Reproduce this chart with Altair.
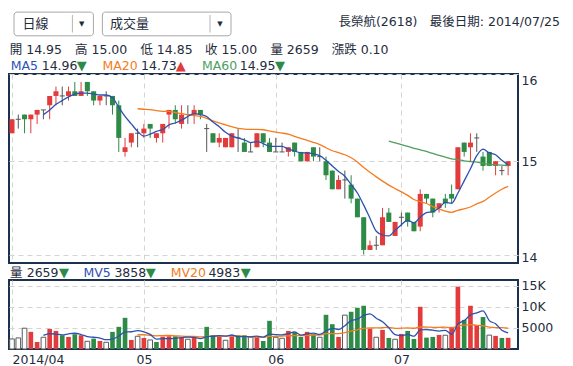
import altair as alt
import pandas as pd

# ---------------- data ----------------
opens = [15.30, 15.45, 15.50, 15.45, 15.50, 15.55, 15.60, 15.70, 15.70, 15.70,
         15.75, 15.70, 15.85, 15.75, 15.65, 15.70, 15.70, 15.60, 15.10, 15.20,
         15.30, 15.30, 15.40, 15.25, 15.30, 15.50, 15.55, 15.40, 15.50, 15.50,
         15.55, 15.35, 15.30, 15.20, 15.15, 15.15, 15.25, 15.20, 15.10, 15.15,
         15.30, 15.20, 15.10, 15.10, 15.10, 15.20, 15.10, 15.00, 15.15, 15.05,
         15.00, 14.90, 14.70, 14.80, 14.75, 14.60, 14.40, 14.05, 14.10, 14.10,
         14.45, 14.20, 14.40, 14.45, 14.35, 14.30, 14.65, 14.60, 14.50, 14.60,
         14.65, 14.70, 15.20, 15.15, 15.25, 15.05, 15.10, 14.95, 14.90, 14.95]
highs = [15.45, 15.50, 15.50, 15.50, 15.55, 15.55, 15.70, 15.80, 15.80, 15.80,
         15.85, 15.85, 15.85, 15.75, 15.70, 15.75, 15.70, 15.65, 15.25, 15.30,
         15.35, 15.40, 15.40, 15.30, 15.40, 15.55, 15.60, 15.60, 15.60, 15.60,
         15.55, 15.40, 15.30, 15.30, 15.25, 15.30, 15.35, 15.25, 15.20, 15.30,
         15.30, 15.25, 15.25, 15.20, 15.15, 15.20, 15.10, 15.10, 15.15, 15.15,
         15.05, 14.90, 14.85, 14.90, 14.85, 14.60, 14.40, 14.15, 14.20, 14.50,
         14.50, 14.35, 14.45, 14.45, 14.35, 14.70, 14.65, 14.60, 14.55, 14.65,
         14.75, 15.15, 15.20, 15.30, 15.30, 15.10, 15.10, 15.00, 14.95, 15.00]
lows = [15.30, 15.35, 15.30, 15.30, 15.40, 15.45, 15.45, 15.60, 15.60, 15.65,
        15.70, 15.70, 15.70, 15.60, 15.60, 15.60, 15.50, 15.10, 15.05, 15.15,
        15.15, 15.25, 15.25, 15.20, 15.20, 15.35, 15.40, 15.35, 15.40, 15.40,
        15.45, 15.10, 15.20, 15.15, 15.15, 15.15, 15.10, 15.10, 15.10, 15.15,
        15.15, 15.10, 15.10, 15.10, 15.05, 15.05, 15.00, 15.00, 15.00, 15.00,
        14.80, 14.70, 14.70, 14.60, 14.55, 14.40, 14.00, 14.05, 14.05, 14.10,
        14.35, 14.20, 14.30, 14.30, 14.25, 14.25, 14.55, 14.40, 14.45, 14.50,
        14.55, 14.70, 15.05, 15.00, 15.10, 14.90, 14.95, 14.85, 14.85, 14.85]
closes = [15.45, 15.45, 15.45, 15.50, 15.55, 15.55, 15.70, 15.75, 15.70, 15.75,
          15.70, 15.75, 15.75, 15.65, 15.70, 15.70, 15.60, 15.25, 15.15, 15.30,
          15.30, 15.35, 15.35, 15.30, 15.40, 15.55, 15.45, 15.50, 15.50, 15.55,
          15.50, 15.35, 15.20, 15.25, 15.25, 15.30, 15.25, 15.10, 15.10, 15.30,
          15.20, 15.10, 15.10, 15.10, 15.15, 15.10, 15.00, 15.10, 15.05, 15.05,
          14.85, 14.70, 14.80, 14.80, 14.60, 14.40, 14.05, 14.10, 14.10, 14.40,
          14.35, 14.35, 14.40, 14.35, 14.25, 14.65, 14.60, 14.45, 14.55, 14.55,
          14.60, 15.15, 15.10, 15.20, 15.25, 14.95, 14.95, 15.00, 14.90, 15.00]
volumes = [2390, 2630, 4940, 4070, 1670, 2790, 4780, 4300, 3270, 2870,
           3510, 3270, 1830, 2470, 1910, 1590, 4070, 5260, 7410, 2150,
           3030, 2630, 2150, 1670, 2950, 3030, 3030, 2790, 2310, 2630,
           1670, 5260, 3270, 3030, 2070, 3030, 3270, 3270, 2870, 2870,
           1910, 6700, 2790, 2550, 4300, 4070, 2870, 4070, 3510, 2790,
           8130, 5900, 2870, 8050, 8850, 9800, 10280, 4860, 2790, 4540,
           2630, 2310, 3590, 4300, 2390, 10040, 2710, 2870, 3350, 3270,
           5260, 14820, 6930, 10280, 5660, 7600, 3300, 3110, 2630, 2659]
close_before_first = 15.45          # previous session close (first volume bar is "unchanged")
month_ticks = [0, 21, 42, 62]
month_labels = ["2014/04", "05", "06", "07"]

# ---------------- styling ----------------
FONT = "DejaVu Sans, Noto Sans CJK TC, sans-serif"
RED, GREEN, GRAY = "#e23b3b", "#2e8b47", "#555555"
BLUE, ORANGE, MA60C = "#2c52b0", "#f47b20", "#4e9e5e"
DARK = "#1f2d3d"
GRID = "#d4d4d4"
BORDER = "#1c3150"
W, H_MAIN, H_VOL = 509, 189, 69

idx = list(range(len(closes)))
prev = [close_before_first] + closes[:-1]
df = pd.DataFrame({"i": idx, "open": opens, "high": highs, "low": lows,
                   "close": closes, "vol": volumes, "prev": prev})

ONE = alt.Data(values=[{}])

x_scale = alt.Scale(domain=[-0.478, 80.57], nice=False, zero=False)
p_scale = alt.Scale(domain=[13.91, 15.935], nice=False, zero=False)
v_scale = alt.Scale(domain=[0, 16400], nice=False, zero=False)

month_expr = " : ".join(f"datum.value == {t} ? '{l}'" for t, l in zip(month_ticks, month_labels)) + " : ''"

main_x_axis = alt.Axis(values=month_ticks, labels=False, ticks=False, domain=False,
                       grid=True, gridDash=[5, 4], gridColor=GRID, title=None)
vol_x_axis = alt.Axis(values=month_ticks, labelExpr=month_expr,
                      labelAlign={"condition": {"test": "datum.value == 0", "value": "left"}, "value": "center"},
                      ticks=False, domain=False, grid=True, gridDash=[5, 4], gridColor=GRID,
                      labelPadding=4, labelFlush=False, title=None)
price_axis = alt.Axis(orient="right", values=[14, 15, 15.935],
                      labelExpr="datum.value > 15.5 ? '16' : format(datum.value, '.0f')",
                      labelBaseline={"condition": {"test": "datum.value > 15.5", "value": "top"}, "value": "middle"},
                      labelOffset={"condition": {"test": "datum.value < 14.5", "value": 3}, "value": 0},
                      ticks=False, domain=False, grid=True, gridDash=[5, 4], gridColor=GRID,
                      labelPadding=3, title=None)
vol_axis = alt.Axis(orient="right", values=[5000, 10000, 15000],
                    labelExpr="datum.value >= 10000 ? (datum.value / 1000) + 'K' : '' + datum.value",
                    ticks=False, domain=False, grid=True, gridDash=[5, 4], gridColor=GRID,
                    labelPadding=3, title=None)


def X(f, axis):
    return alt.X(f"{f}:Q", scale=x_scale, axis=axis)


def YP(f):
    return alt.Y(f"{f}:Q", scale=p_scale, axis=price_axis)


def YV(f):
    return alt.Y(f"{f}:Q", scale=v_scale, axis=vol_axis)


def label(text, x, y, color=DARK, size=12.5, align="left"):
    return alt.Chart(ONE).mark_text(text=text, align=align, baseline="middle", font=FONT,
                                    fontSize=size, color=color).encode(x=alt.value(x), y=alt.value(y))


def box(x1, x2, y1, y2):
    return alt.Chart(ONE).mark_rect(fill="white", stroke="#a8a8a8", strokeWidth=1, cornerRadius=3).encode(
        x=alt.value(x1), x2=alt.value(x2), y=alt.value(y1), y2=alt.value(y2))


def vline(x, y1, y2):
    return alt.Chart(ONE).mark_rule(color="#b4b4b4", strokeWidth=1).encode(
        x=alt.value(x), y=alt.value(y1), y2=alt.value(y2))


base = alt.Chart(df).transform_calculate(
    x0="datum.i - 0.4", x1="datum.i + 0.4",
    vx0="datum.i - 0.37", vx1="datum.i + 0.37",
    zero="0",
    cdir="datum.close > datum.open ? 'up' : (datum.close < datum.open ? 'down' : 'flat')",
    vdir="datum.close > datum.prev ? 'up' : (datum.close < datum.prev ? 'down' : 'flat')",
)

cdir_color = alt.Color("cdir:N", scale=alt.Scale(domain=["up", "down", "flat"], range=[RED, GREEN, GRAY]), legend=None)
vdir_color = alt.Color("vdir:N", scale=alt.Scale(domain=["up", "down", "flat"], range=[RED, GREEN, GRAY]), legend=None)

wicks = base.mark_rule(strokeWidth=1).encode(x=X("i", main_x_axis), y=YP("low"), y2="high:Q", color=cdir_color)
bodies = base.transform_filter("datum.cdir != 'flat'").mark_rect().encode(
    x=X("x0", main_x_axis), x2="x1:Q", y=YP("open"), y2="close:Q", color=cdir_color)
dojis = base.transform_filter("datum.cdir == 'flat'").mark_rule(strokeWidth=1, color=GRAY).encode(
    x=X("x0", main_x_axis), x2="x1:Q", y=YP("close"))


def avg_line(n, field, color, yfun, axis):
    return base.transform_window(m=f"mean({field})", frame=[-(n - 1), 0], sort=[alt.SortField("i")]) \
        .transform_filter(f"datum.i >= {n}") \
        .mark_line(color=color, strokeWidth=1.3, interpolate="monotone") \
        .encode(x=X("i", axis), y=yfun("m"))


ma60 = avg_line(60, "close", MA60C, YP, main_x_axis)
ma20 = avg_line(20, "close", ORANGE, YP, main_x_axis)
ma5 = avg_line(5, "close", BLUE, YP, main_x_axis)

header = [
    box(5.0, 84.4, -61.9, -38.2), vline(63.4, -59, -41.5), label("▼", 72.7, -49.9, size=7, align="center"),
    label("日線", 13.4, -50, size=13),
    box(93.4, 222, -61.9, -38.2), vline(201, -59, -41.5), label("▼", 211, -49.9, size=7, align="center"),
    label("成交量", 101, -50, size=13),
    label("長榮航(2618)", 329.4, -52.2),
    label("最後日期: 2014/07/25", 551, -52.2, align="right"),
    label("開 14.95", 0.7, -24.5), label("高 15.00", 66, -24.5), label("低 14.85", 131.4, -24.5),
    label("收 15.00", 196, -24.5), label("量 2659", 261.4, -24.5), label("漲跌 0.10", 322.7, -24.5),
    label("MA5", 1.7, -7.9, color=BLUE), label("14.96", 32.7, -7.9), label("▼", 67.7, -7.9, color=GREEN, size=13),
    label("MA20", 93.4, -7.9, color=ORANGE), label("14.73", 132, -7.9), label("▲", 166.7, -7.9, color=RED, size=13),
    label("MA60", 193, -7.9, color=MA60C), label("14.95", 230.7, -7.9), label("▼", 266, -7.9, color=GREEN, size=13),
]

main = alt.layer(*header, wicks, bodies, dojis, ma60, ma20, ma5).properties(width=W, height=H_MAIN)

vbars = base.transform_filter("datum.vdir != 'flat'").mark_rect().encode(
    x=X("vx0", vol_x_axis), x2="vx1:Q", y=YV("vol"), y2="zero:Q", color=vdir_color)
vflat = base.transform_filter("datum.vdir == 'flat'").mark_rect(fill="white", stroke="#5a5a5a", strokeWidth=1).encode(
    x=X("vx0", vol_x_axis), x2="vx1:Q", y=YV("vol"), y2="zero:Q")
mv20 = avg_line(20, "vol", ORANGE, YV, vol_x_axis)
mv5 = avg_line(5, "vol", BLUE, YV, vol_x_axis)

vol_legend = [
    label("量", 1, -7.5), label("2659", 17.7, -7.5), label("▼", 50, -7.5, color=GREEN, size=13),
    label("MV5", 74.4, -7.5, color=BLUE), label("3858", 105.4, -7.5), label("▼", 136.7, -7.5, color=GREEN, size=13),
    label("MV20", 161.7, -7.5, color=ORANGE), label("4983", 199.4, -7.5), label("▼", 231.7, -7.5, color=GREEN, size=13),
]

vol = alt.layer(vbars, vflat, mv20, mv5, *vol_legend).properties(width=W, height=H_VOL)

chart = alt.vconcat(main, vol, spacing=17, bounds="flush").properties(
    padding={"left": 0, "top": 2, "right": 2, "bottom": 0}
).configure_view(stroke=BORDER, strokeWidth=2).configure_axis(
    labelFont=FONT, labelFontSize=12.5, labelColor=DARK
)

chart.save("out.html", embed_options={"renderer": "svg", "actions": False})
